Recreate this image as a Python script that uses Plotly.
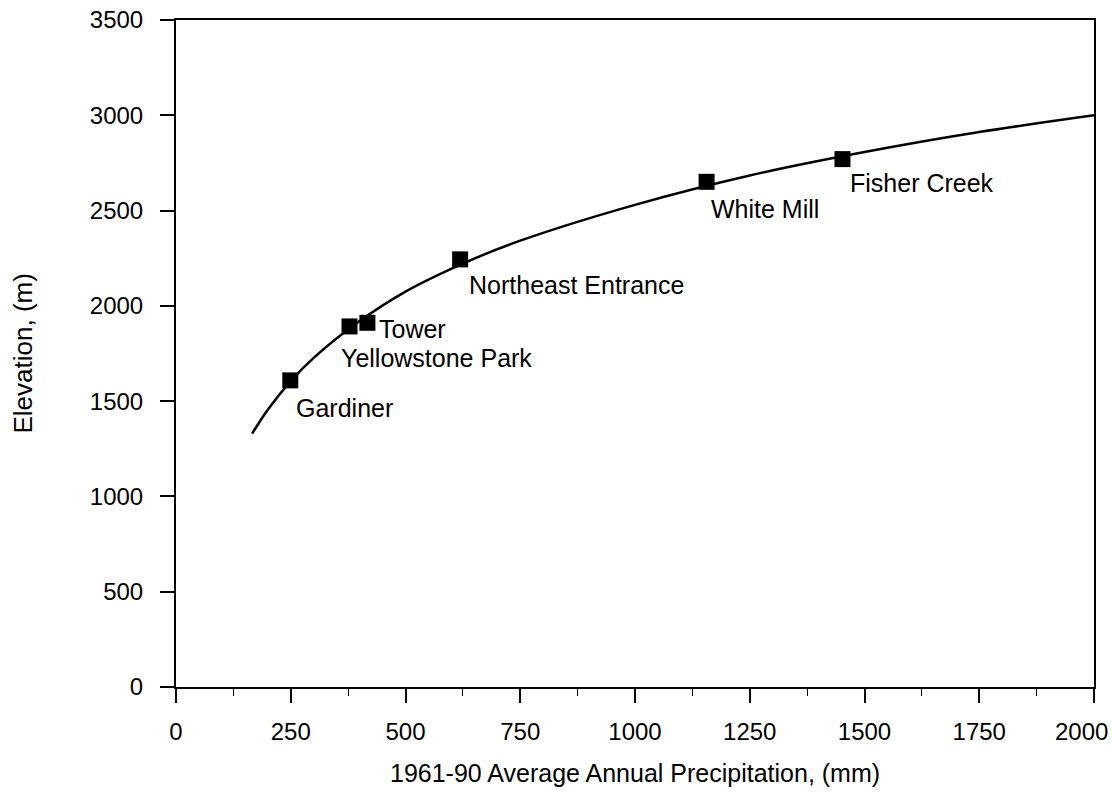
import plotly.graph_objects as go

# Station data
stations = ["Gardiner", "Yellowstone Park", "Tower", "Northeast Entrance", "White Mill", "Fisher Creek"]
precip_mm = [249, 378, 417, 619, 1156, 1452]
elevation_m = [1609, 1892, 1911, 2244, 2651, 2770]

# Trend curve points
curve_x = [166, 200, 250, 300, 400, 500, 625, 750, 1000, 1250, 1500, 1750, 2000]
curve_y = [1330, 1455, 1605, 1727, 1920, 2075, 2222, 2342, 2530, 2684, 2807, 2912, 3000]

# Axis ticks
x_ticks = [0, 250, 500, 750, 1000, 1250, 1500, 1750, 2000]
x_ticktext = ["0", "250", "500", "750", "1000", "1250", "1500", "1750", "2000"]
y_ticks = [0, 500, 1000, 1500, 2000, 2500, 3000, 3500]

x_title = "1961-90 Average Annual Precipitation, (mm)"
y_title = "Elevation, (m)"

# label offsets (px) relative to each marker
label_dx = [4, -11, 10, 7, 2, 6]
label_dy = [-28, -32, -6, -26, -27, -24]

FONT = "Liberation Sans, Arial, sans-serif"

fig = go.Figure()
fig.add_trace(go.Scatter(
    x=curve_x, y=curve_y, mode="lines",
    line=dict(color="black", width=2.5, shape="spline", smoothing=1.0),
    hoverinfo="skip", showlegend=False,
))
fig.add_trace(go.Scatter(
    x=precip_mm, y=elevation_m, mode="markers",
    marker=dict(symbol="square", size=16, color="black"),
    text=stations, showlegend=False,
))

for name, xv, yv, dx, dy in zip(stations, precip_mm, elevation_m, label_dx, label_dy):
    fig.add_annotation(
        x=xv, y=yv, text=name, showarrow=False,
        xanchor="left", yanchor="middle", xshift=dx, yshift=dy,
        font=dict(family=FONT, size=25, color="#000"),
    )

fig.add_annotation(
    x=0.5, y=0, xref="paper", yref="paper", text=x_title, showarrow=False,
    xanchor="center", yanchor="middle", yshift=-86,
    font=dict(family=FONT, size=25, color="#000"),
)
fig.add_annotation(
    x=0, y=0.5, xref="paper", yref="paper", text=y_title, showarrow=False,
    xanchor="center", yanchor="middle", xshift=-154, textangle=-90,
    font=dict(family=FONT, size=26, color="#000"),
)

# last x tick label: drawn right-aligned so it stays inside the page edge
shown_ticktext = x_ticktext[:-1] + [""]
fig.add_annotation(
    x=x_ticks[-1], y=0, xref="x", yref="paper", text=x_ticktext[-1], showarrow=False,
    xanchor="right", yanchor="middle", xshift=16, yshift=-44,
    font=dict(family=FONT, size=24, color="#000"),
)

fig.update_xaxes(
    range=[0, 2000], tickvals=x_ticks, ticktext=shown_ticktext,
    showgrid=False, zeroline=False,
    showline=True, linecolor="black", linewidth=2, mirror=True,
    ticks="outside", ticklen=14, tickwidth=1.5, tickcolor="black",
    minor=dict(dtick=125, tick0=0, ticks="outside", ticklen=7, tickwidth=1.2, tickcolor="black", showgrid=False),
    tickfont=dict(family=FONT, size=24, color="#000"),
    ticklabelstandoff=8,
)
fig.update_yaxes(
    range=[0, 3500], tickvals=y_ticks,
    showgrid=False, zeroline=False,
    showline=True, linecolor="black", linewidth=2, mirror=True,
    ticks="outside", ticklen=14, tickwidth=1.5, tickcolor="black",
    tickfont=dict(family=FONT, size=24, color="#000"),
    ticklabelstandoff=12,
)

fig.update_layout(
    width=1112, height=799,
    margin=dict(l=176, r=18, t=20, b=112, autoexpand=False),
    paper_bgcolor="white", plot_bgcolor="white",
    showlegend=False,
)

fig.write_html("out.html", config={"displayModeBar": False})

with open("out.html", "r", encoding="utf-8") as f:
    html = f.read()
html = html.replace("<head>", "<head><style>html,body{margin:0;padding:0;overflow:hidden;}</style>", 1)
with open("out.html", "w", encoding="utf-8") as f:
    f.write(html)
